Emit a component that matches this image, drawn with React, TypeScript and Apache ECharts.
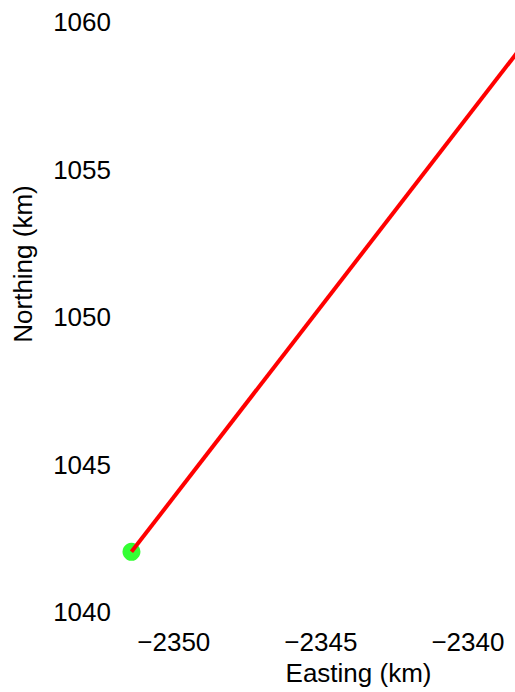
import React, { useEffect, useRef } from "react";
import * as echarts from "echarts";

const trackEasting = [-2351.44, -2336.0];
const trackNorthing = [1042.04, 1061.97];
const startPoint = [-2351.44, 1042.04];
const xTickValues = [-2350, -2345, -2340];
const yTickValues = [1040, 1045, 1050, 1055, 1060];

export default function App() {
  const ref = useRef<HTMLDivElement>(null);
  useEffect(() => {
    if (!ref.current) return;
    const chart = echarts.init(ref.current, undefined, { renderer: "svg" });
    const font = "Liberation Sans, Arial, sans-serif";
    chart.setOption({
      animation: false,
      backgroundColor: "#ffffff",
      grid: { left: 115, right: 0, top: 0, bottom: 80 },
      xAxis: {
        type: "value",
        min: -2352,
        max: -2335.44,
        name: "Easting (km)",
        nameLocation: "middle",
        nameGap: 45,
        nameTextStyle: { fontFamily: font, fontSize: 26, color: "#000" },
        axisLine: { show: false },
        axisTick: { show: false },
        splitLine: { show: false },
        axisLabel: {
          customValues: xTickValues,
          fontFamily: font,
          fontSize: 26,
          color: "#000",
          margin: 17,
          formatter: (v: number) => String(v).replace("-", "\u2212"),
        },
      },
      yAxis: {
        type: "value",
        min: 1040,
        max: 1063.6,
        name: "Northing (km)",
        nameLocation: "middle",
        nameGap: 79,
        nameTextStyle: { fontFamily: font, fontSize: 26, color: "#000" },
        axisLine: { show: false },
        axisTick: { show: false },
        splitLine: { show: false },
        axisLabel: {
          customValues: yTickValues,
          fontFamily: font,
          fontSize: 26,
          color: "#000",
          margin: 4,
          formatter: (v: number) => String(v),
        },
      },
      series: [
        {
          type: "line",
          data: trackEasting.map((e, i) => [e, trackNorthing[i]]),
          showSymbol: false,
          lineStyle: { color: "#ff0000", width: 4 },
          clip: true,
        },
        {
          type: "scatter",
          data: [startPoint],
          symbol: "circle",
          symbolSize: 18,
          itemStyle: { color: "#00ff00" },
        },
      ],
    });
    return () => chart.dispose();
  }, []);
  return (
    <div
      style={{
        position: "absolute",
        left: 0,
        top: 0,
        width: 515,
        height: 692,
        overflow: "hidden",
        background: "#fff",
      }}
    >
      <div
        ref={ref}
        style={{ position: "absolute", left: 0, top: -84, width: 602, height: 776 }}
      />
    </div>
  );
}
